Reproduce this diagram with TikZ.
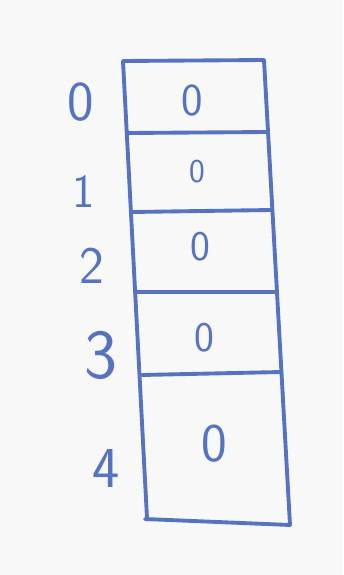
\documentclass[tikz,border=0pt]{standalone}
\usepackage{xcolor}
\usetikzlibrary{positioning}
\definecolor{ink}{HTML}{5673C2}
\definecolor{paper}{HTML}{F8F8F8}

\begin{document}
\begin{tikzpicture}[x=0.02cm, y=-0.02cm,
                  pen/.style={draw=ink, line width=2.2pt, line cap=round},
                  index/.style={text=ink, inner sep=0pt, font=\sffamily\fontsize{#1}{#1}\selectfont},
                  value/.style={text=ink, inner sep=0pt, font=\sffamily\fontsize{#1}{#1}\selectfont},
            ]
            \fill[paper] (0,0) rectangle (343,575);
            \useasboundingbox (0,0) rectangle (343,575);

            % corners of the cells
            \coordinate (l0) at (123,61);
            \coordinate (l1) at (128,133);
            \coordinate (l2) at (132,212);
            \coordinate (l3) at (137,292);
            \coordinate (l4) at (142,375);
            \coordinate (l5) at (147,518);
            \coordinate (r0) at (264,60);
            \coordinate (r1) at (267,132);
            \coordinate (r2) at (271,210);
            \coordinate (r3) at (277,292);
            \coordinate (r4) at (281,372);
            \coordinate (r5) at (290,525);
            \coordinate (b0) at (145,519);

            % outline
            \draw[pen] (l0) -- (l5);
            \draw[pen] (r0) -- (r5);
            \draw[pen] (b0) -- (r5);
            \foreach \i in {0,...,4} {
                  \draw[pen] (l\i) -- (r\i);
            }

            % indices
            \node[index=32] (i0) at (81,102) {0};
            \node[index=27] (i1) at (84,192) {1};
            \node[index=30] (i2) at (92,266) {2};
            \node[index=40] (i3) at (101,355) {3};
            \node[index=33] (i4) at (106,468) {4};

            % values
            \node[value=26] (v0) at (192,101) {0};
            \node[value=19] (v1) at (197,172) {0};
            \node[value=24] (v2) at (200,247) {0};
            \node[value=24] (v3) at (204,338) {0};
            \node[value=31] (v4) at (214,444) {0};
      \end{tikzpicture}
\end{document}
